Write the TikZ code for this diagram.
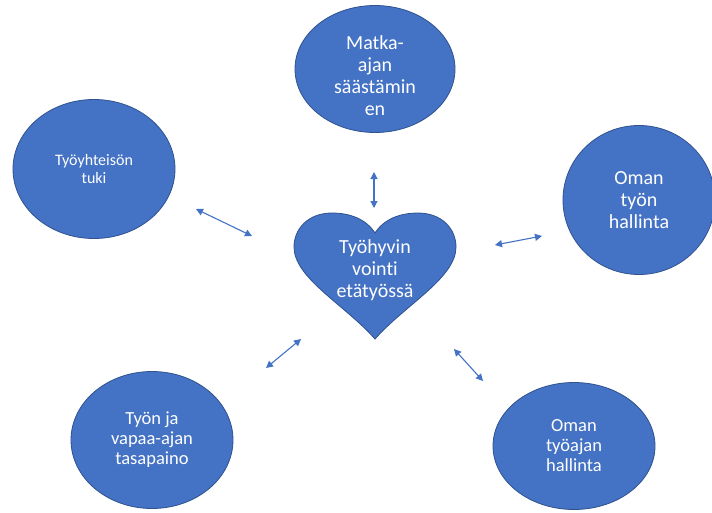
\documentclass[tikz,border=0pt]{standalone}
\usepackage{fontspec}
\setmainfont{Carlito}[Ligatures={NoCommon}]
\usetikzlibrary{shapes.geometric,arrows.meta}
\definecolor{bluefill}{HTML}{4472C4}
\definecolor{blueline}{HTML}{2F528F}
\begin{document}
\begin{tikzpicture}[x=1pt,y=-1pt,
  bubble/.style={ellipse, draw=blueline, line width=0.8pt, fill=bluefill,
    text=white, align=center, inner sep=0pt},
  txt/.style={text=white, align=center, inner sep=0pt},
  big/.style={font=\fontsize{20}{22}\selectfont},
  mid/.style={font=\fontsize{18.5}{20}\selectfont},
  small/.style={font=\fontsize{16}{18}\selectfont},
  link/.style={draw=bluefill, line width=1.1pt,
    {Triangle[length=7pt,width=7pt]}-{Triangle[length=7pt,width=7pt]}}]
\useasboundingbox (0,0) rectangle (712,512);
\fill[white] (0,0) rectangle (712,512);
% bubbles
\node[bubble, minimum width=160pt, minimum height=127pt] (matka) at (375,69) {};
\node[txt, big] (matkatxt) at (375,76) {Matka-\\ajan\\säästämin\\en};
\node[bubble, small, minimum width=162pt, minimum height=139pt] (tuki) at (94,169)
  {Työyhteisön\\tuki};
\node[bubble, big, minimum width=152pt, minimum height=149pt] (oma) at (639,200)
  {Oman\\työn\\hallinta};
\node[bubble, mid, minimum width=162pt, minimum height=137pt] (tasa) at (152,440)
  {Työn ja\\vapaa-ajan\\tasapaino};
\node[bubble, mid, minimum width=162pt, minimum height=127pt] (aika) at (574,446)
  {Oman\\työajan\\hallinta};
% heart
\path[draw=blueline, line width=0.8pt, fill=bluefill]
  (375,233) .. controls (366,219) and (350,213) .. (332,213)
  .. controls (308,213) and (294,229) .. (294,247)
  .. controls (294,278) and (345,305) .. (375,339)
  .. controls (405,305) and (456,278) .. (456,247)
  .. controls (456,229) and (442,213) .. (418,213)
  .. controls (400,213) and (384,219) .. (375,233) -- cycle;
\node[txt, big] (heart) at (375,270)
  {Työhyvin\\vointi\\etätyössä};
% arrow ends
\coordinate (a1) at (374,172); \coordinate (b1) at (374,208);
\coordinate (a2) at (196,209); \coordinate (b2) at (252,236);
\coordinate (a3) at (495,245); \coordinate (b3) at (542,236);
\coordinate (a4) at (266,368); \coordinate (b4) at (301,339);
\coordinate (a5) at (454,349); \coordinate (b5) at (483,381);
\draw[link] (a1) -- (b1);
\draw[link] (a2) -- (b2);
\draw[link] (a3) -- (b3);
\draw[link] (a4) -- (b4);
\draw[link] (a5) -- (b5);
\end{tikzpicture}
\end{document}
